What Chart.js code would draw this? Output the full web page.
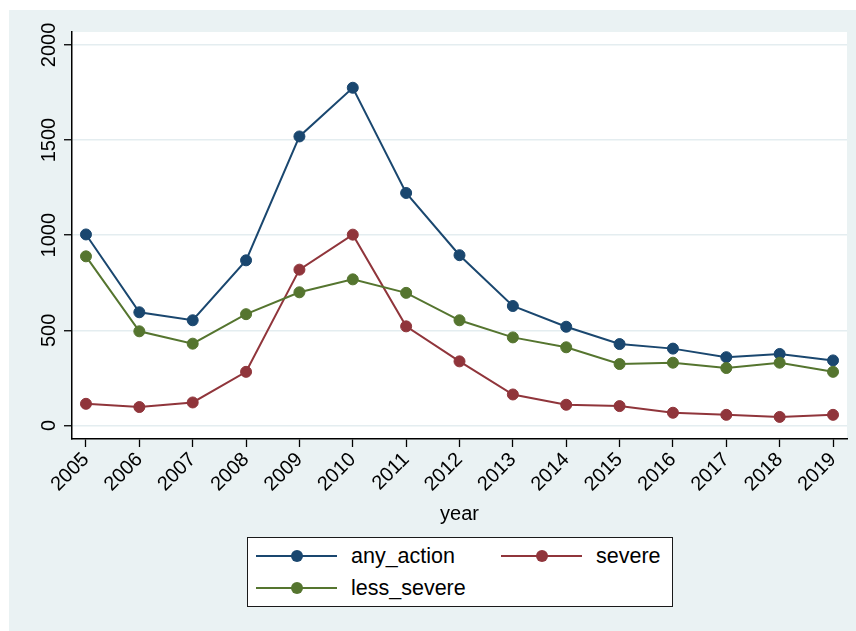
<!DOCTYPE html>
<html>
<head>
<meta charset="utf-8">
<script src="https://cdn.jsdelivr.net/npm/chart.js@4/dist/chart.umd.min.js"></script>
<style>
  html, body { margin: 0; padding: 0; background: #ffffff; }
  #wrap { position: relative; width: 856px; height: 631px; overflow: hidden; }
  #panel { position: absolute; left: 9px; top: 10px; width: 847px; height: 621px; background: #EAF2F3; }
  #c { position: absolute; left: 0; top: 0; }
  #legend { position: absolute; left: 247px; top: 537px; width: 424px; height: 68px;
            border: 1px solid #1a1a1a; background: #ffffff;
            font-family: "Liberation Sans", Arial, sans-serif; font-size: 21.5px; color: #000; }
  .item { position: absolute; width: 240px; height: 30px; }
  .line { position: absolute; left: 0; top: 14px; width: 81px; height: 2px; }
  .dot  { position: absolute; left: 34.5px; top: 9px; width: 12px; height: 12px; border-radius: 50%; }
  .lab  { position: absolute; left: 95px; top: 0; height: 30px; line-height: 30px; white-space: nowrap; }
</style>
</head>
<body>
<div id="wrap">
  <div id="panel"></div>
  <canvas id="c" width="856" height="631"></canvas>
  <div id="legend"></div>
</div>
<script>
// ---- data ----
const years       = [2005, 2006, 2007, 2008, 2009, 2010, 2011, 2012, 2013, 2014, 2015, 2016, 2017, 2018, 2019];
const anyAction   = [1004, 595, 553, 868, 1519, 1775, 1222, 895, 628, 519, 428, 404, 359, 376, 342];
const severe      = [114, 97, 121, 282, 819, 1003, 521, 337, 163, 109, 102, 67, 56, 45, 56];
const lessSevere  = [889, 495, 430, 585, 700, 768, 697, 553, 463, 411, 323, 330, 302, 330, 282];
const yTickValues = [0, 500, 1000, 1500, 2000];
const seriesNames = ['any_action', 'severe', 'less_severe'];
const xTitle      = 'year';

// ---- styles ----
const seriesColors = ['#1A476F', '#90353B', '#55752F'];
const FONT = 'Liberation Sans';

const seriesValues = [anyAction, severe, lessSevere];
const drawOrder = [3, 2, 1];

const datasets = seriesNames.map((name, i) => ({
  label: name,
  data: years.map((yr, k) => ({ x: yr, y: seriesValues[i][k] })),
  borderColor: seriesColors[i],
  backgroundColor: seriesColors[i],
  pointBackgroundColor: seriesColors[i],
  pointBorderColor: seriesColors[i],
  pointBorderWidth: 1,
  pointRadius: 5.5,
  borderWidth: 2,
  tension: 0,
  order: drawOrder[i]
}));

const plotBg = {
  id: 'plotBg',
  beforeDraw(chart) {
    const { ctx, chartArea: a } = chart;
    ctx.save();
    ctx.fillStyle = '#ffffff';
    ctx.fillRect(a.left, a.top, a.right - a.left, a.bottom - a.top);
    ctx.restore();
  }
};

new Chart(document.getElementById('c'), {
  type: 'line',
  data: { datasets },
  plugins: [plotBg],
  options: {
    responsive: false,
    animation: false,
    devicePixelRatio: 1,
    layout: { padding: { left: 0, top: 32, right: 9, bottom: 105 } },
    plugins: { legend: { display: false }, tooltip: { enabled: false } },
    scales: {
      x: {
        type: 'linear',
        min: years[0] - 0.262,
        max: years[years.length - 1] + 0.262,
        afterBuildTicks(s) { s.ticks = years.map(v => ({ value: v })); },
        afterFit(s) { s.height = 87; },
        ticks: {
          autoSkip: false,
          minRotation: 45,
          maxRotation: 45,
          padding: 1,
          color: '#000',
          font: { family: FONT, size: 20 },
          callback: (v) => String(v)
        },
        grid: { drawOnChartArea: false, drawTicks: true, tickLength: 8, tickColor: '#000', tickWidth: 1.3 },
        border: { display: true, color: '#000', width: 1.5 },
        title: { display: true, text: xTitle, color: '#000', font: { family: FONT, size: 20 }, padding: { top: 0, bottom: 0 } }
      },
      y: {
        type: 'linear',
        min: -71,
        max: 2068,
        afterBuildTicks(s) { s.ticks = yTickValues.map(v => ({ value: v })); },
        afterFit(s) { s.width = 72; },
        ticks: {
          minRotation: 90,
          maxRotation: 90,
          crossAlign: 'center',
          padding: -8,
          color: '#000',
          font: { family: FONT, size: 20 },
          callback: (v) => String(v)
        },
        grid: { color: '#E4EDF0', lineWidth: 1.5, drawTicks: true, tickLength: 8, tickColor: '#000', tickWidth: 1.3 },
        border: { display: true, color: '#000', width: 1.5 }
      }
    }
  }
});

// ---- legend (HTML, built from the series arrays) ----
const legendEl = document.getElementById('legend');
const legendSlots = [[8, 3], [253, 3], [8, 35]]; // [left, top] per item, row-wise like the source
seriesNames.forEach((name, i) => {
  const it = document.createElement('div');
  it.className = 'item';
  it.style.left = legendSlots[i][0] + 'px';
  it.style.top = legendSlots[i][1] + 'px';
  const ln = document.createElement('div'); ln.className = 'line'; ln.style.background = seriesColors[i];
  const dt = document.createElement('div'); dt.className = 'dot'; dt.style.background = seriesColors[i];
  const lb = document.createElement('div'); lb.className = 'lab'; lb.textContent = name;
  it.appendChild(ln); it.appendChild(dt); it.appendChild(lb);
  legendEl.appendChild(it);
});
</script>
</body>
</html>
